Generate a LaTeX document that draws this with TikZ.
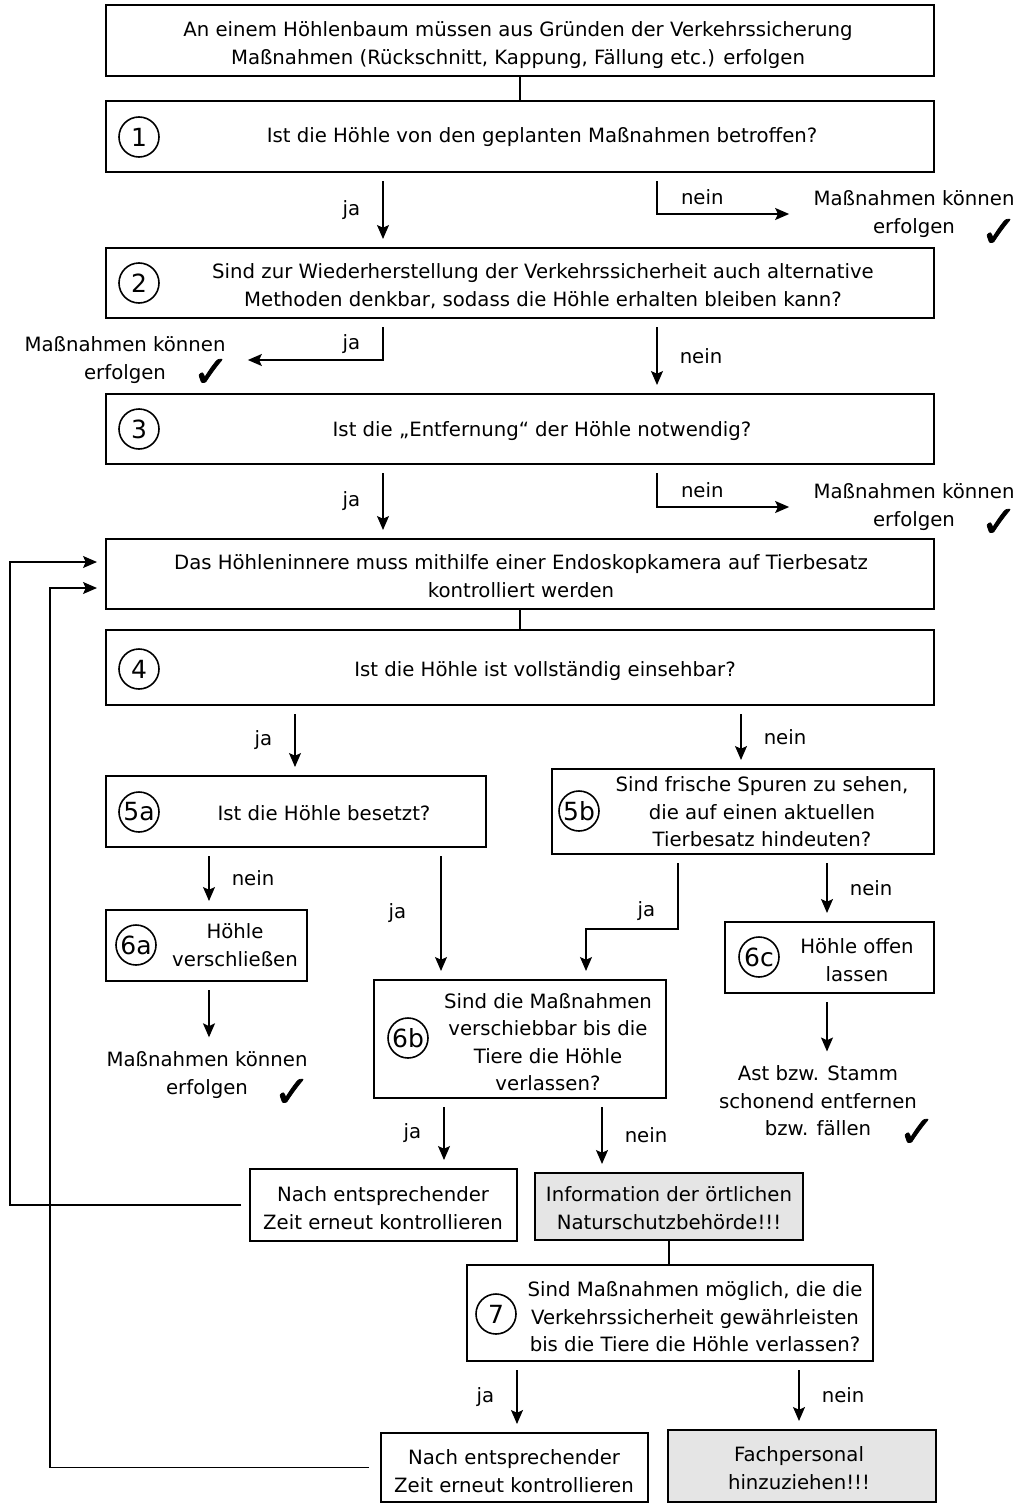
\documentclass[tikz,border=0pt]{standalone}
\usepackage{fontspec}
\setmainfont{DejaVu Sans}
\newfontfamily\checkfont[FakeBold=1.6]{DejaVu Sans}
\usetikzlibrary{arrows.meta,positioning,fit}
\definecolor{boxgray}{gray}{0.9}

\begin{document}
\begin{tikzpicture}[x=0.5pt,y=-0.5pt,>={Stealth[length=7pt,width=6pt,inset=1.4pt]},
  font=\fontsize{9.85}{13.75}\selectfont]
  \tikzstyle{box}=[draw,line width=1pt,inner sep=0pt]
  \tikzstyle{txt}=[align=center,inner sep=0pt]
  \tikzstyle{nr}=[draw,circle,line width=0.8pt,minimum size=20pt,inner sep=0pt,font=\fontsize{12.5}{12.5}\selectfont]
  \tikzstyle{flow}=[->,line width=0.75pt,shorten <=4pt,shorten >=4pt]
  \tikzstyle{link}=[line width=0.75pt]
  \tikzstyle{lbl}=[inner sep=0pt]
  \tikzstyle{ok}=[inner sep=0pt,font=\checkfont\fontsize{22}{22}\selectfont]

  \useasboundingbox (0,0) rectangle (1017,1504);

  % Einstieg
  \node[box,fit={(106,5) (934,76)}] (q0) {};
  \node[txt] (t0) at (518,45) {An einem Höhlenbaum müssen aus Gründen der Verkehrssicherung\\Maßnahmen (Rückschnitt, Kappung, Fällung etc.) erfolgen};

  \node[box,fit={(106,101) (934,172)}] (q1) {};
  \node[nr] (n1) at (139,137) {1};
  \node[txt] (t1) at (542,137) {Ist die Höhle von den geplanten Maßnahmen betroffen?};
  \node[txt] (r1) at (914,214) {Maßnahmen können\\erfolgen};
  \node[ok] (c1) at (999,233) {✓};

  \node[box,fit={(106,248) (934,318)}] (q2) {};
  \node[nr] (n2) at (139,283) {2};
  \node[txt] (t2) at (543,286) {Sind zur Wiederherstellung der Verkehrssicherheit auch alternative\\Methoden denkbar, sodass die Höhle erhalten bleiben kann?};
  \node[txt] (r2) at (125,360) {Maßnahmen können\\erfolgen};
  \node[ok] (c2) at (211,373) {✓};

  \node[box,fit={(106,394) (934,464)}] (q3) {};
  \node[nr] (n3) at (139,429) {3};
  \node[txt] (t3) at (542,431) {Ist die „Entfernung“ der Höhle notwendig?};
  \node[txt] (r3) at (914,507) {Maßnahmen können\\erfolgen};
  \node[ok] (c3) at (999,523) {✓};

  % Kontrolle mit Endoskop
  \node[box,fit={(106,539) (934,609)}] (q4) {};
  \node[txt] (t4) at (521,576) {Das Höhleninnere muss mithilfe einer Endoskopkamera auf Tierbesatz\\kontrolliert werden};

  \node[box,fit={(106,630) (934,705)}] (q5) {};
  \node[nr] (n4) at (139,669) {4};
  \node[txt] (t5) at (545,671) {Ist die Höhle ist vollständig einsehbar?};

  \node[box,fit={(106,776) (486,847)}] (q5a) {};
  \node[nr] (n5a) at (139,812) {5a};
  \node[txt] (t5a) at (324,813) {Ist die Höhle besetzt?};

  \node[box,fit={(552,769) (934,854)}] (q5b) {};
  \node[nr] (n5b) at (579,811) {5b};
  \node[txt] (t5b) at (762,812) {Sind frische Spuren zu sehen,\\die auf einen aktuellen\\Tierbesatz hindeuten?};

  \node[box,fit={(106,910) (307,981)}] (q6a) {};
  \node[nr] (n6a) at (136,945) {6a};
  \node[txt] (t6a) at (235,945) {Höhle\\verschließen};
  \node[txt] (r4) at (207,1075) {Maßnahmen können\\erfolgen};
  \node[ok] (c4) at (292,1093) {✓};

  \node[box,fit={(374,980) (666,1098)}] (q6b) {};
  \node[nr] (n6b) at (408,1038) {6b};
  \node[txt] (t6b) at (548,1042) {Sind die Maßnahmen\\verschiebbar bis die\\Tiere die Höhle\\verlassen?};

  \node[box,fit={(725,922) (934,993)}] (q6c) {};
  \node[nr] (n6c) at (759,957) {6c};
  \node[txt] (t6c) at (857,960) {Höhle offen\\lassen};
  \node[txt] (r5) at (818,1101) {Ast bzw. Stamm\\schonend entfernen\\bzw. fällen};
  \node[ok] (c5) at (917,1133) {✓};

  \node[box,fit={(250,1169) (517,1241)}] (k1) {};
  \node[txt] (tk1) at (383,1208) {Nach entsprechender\\Zeit erneut kontrollieren};
  \node[box,fill=boxgray,fit={(535,1173) (803,1240)}] (nb) {};
  \node[txt] (tnb) at (669,1208) {Information der örtlichen\\Naturschutzbehörde!!!};

  \node[box,fit={(467,1265) (873,1361)}] (q7) {};
  \node[nr] (n7) at (496,1314) {7};
  \node[txt] (t7) at (695,1317) {Sind Maßnahmen möglich, die die\\Verkehrssicherheit gewährleisten\\bis die Tiere die Höhle verlassen?};

  \node[box,fit={(381,1433) (648,1502)}] (k2) {};
  \node[txt] (tk2) at (514,1471) {Nach entsprechender\\Zeit erneut kontrollieren};
  \node[box,fill=boxgray,fit={(668,1430) (936,1502)}] (fp) {};
  \node[txt] (tfp) at (799,1468) {Fachpersonal\\hinzuziehen!!!};

  % Verbindungen
  \draw[link] (q0) -- (q1);
  \draw[flow] (q1.south -| 383,0) -- node[lbl,left=11pt]{ja} (q2.north -| 383,0);
  \draw[flow,shorten >=12pt] (q1.south -| 657,0) |- node[lbl,pos=0.645,above=4pt]{nein} (r1.west);
  \draw[flow,shorten >=11pt] (q2.south -| 383,0) |- node[lbl,pos=0.31,left=11pt]{ja} (r2.east);
  \draw[flow] (q2.south -| 657,0) -- node[lbl,right=11pt]{nein} (q3.north -| 657,0);
  \draw[flow] (q3.south -| 383,0) -- node[lbl,left=11pt]{ja} (q4.north -| 383,0);
  \draw[flow,shorten >=12pt] (q3.south -| 657,0) |- node[lbl,pos=0.645,above=4pt]{nein} (r3.west);
  \draw[link] (q4) -- (q5);
  \draw[flow] (q5.south -| 295,0) -- node[lbl,left=11pt]{ja} (q5a.north -| 295,0);
  \draw[flow] (q5.south -| 741,0) -- node[lbl,right=11pt]{nein} (q5b.north -| 741,0);
  \draw[flow] (q5a.south -| 209,0) -- node[lbl,right=11pt]{nein} (q6a.north -| 209,0);
  \draw[flow] (q5a.south -| 441,0) -- node[lbl,left=17pt]{ja} (q6b.north -| 441,0);
  \draw[flow] (q5b.south -| 678,0) -- node[lbl,pos=0.76,left=11pt]{ja} ++(0,74) -| (q6b.north -| 586,0);
  \draw[flow] (q5b.south -| 827,0) -- node[lbl,right=11pt]{nein} (q6c.north -| 827,0);
  \draw[flow,shorten >=7pt] (q6a.south -| 209,0) -- (r4.north -| 209,0);
  \draw[flow,shorten >=7pt] (q6c.south -| 827,0) -- (r5.north -| 827,0);
  \draw[flow] (q6b.south -| 444,0) -- node[lbl,left=11pt]{ja} (k1.north -| 444,0);
  \draw[flow] (q6b.south -| 602,0) -- node[lbl,right=11pt]{nein} (nb.north -| 602,0);
  \draw[link] (nb) -- (nb |- q7.north);
  \draw[flow] (q7.south -| 517,0) -- node[lbl,left=11pt]{ja} (k2.north -| 517,0);
  \draw[flow] (q7.south -| 799,0) -- node[lbl,right=11pt]{nein} (fp.north -| 799,0);

  % Rueckfuehrung zur Kontrolle
  \draw[flow] (k1.west) -- (k1.west -| 10,0) |- (q4.west |- 0,562);
  \draw[flow,shorten <=5.5pt] (k2.west) -- (k2.west -| 50,0) |- (q4.west |- 0,588);
\end{tikzpicture}
\end{document}
